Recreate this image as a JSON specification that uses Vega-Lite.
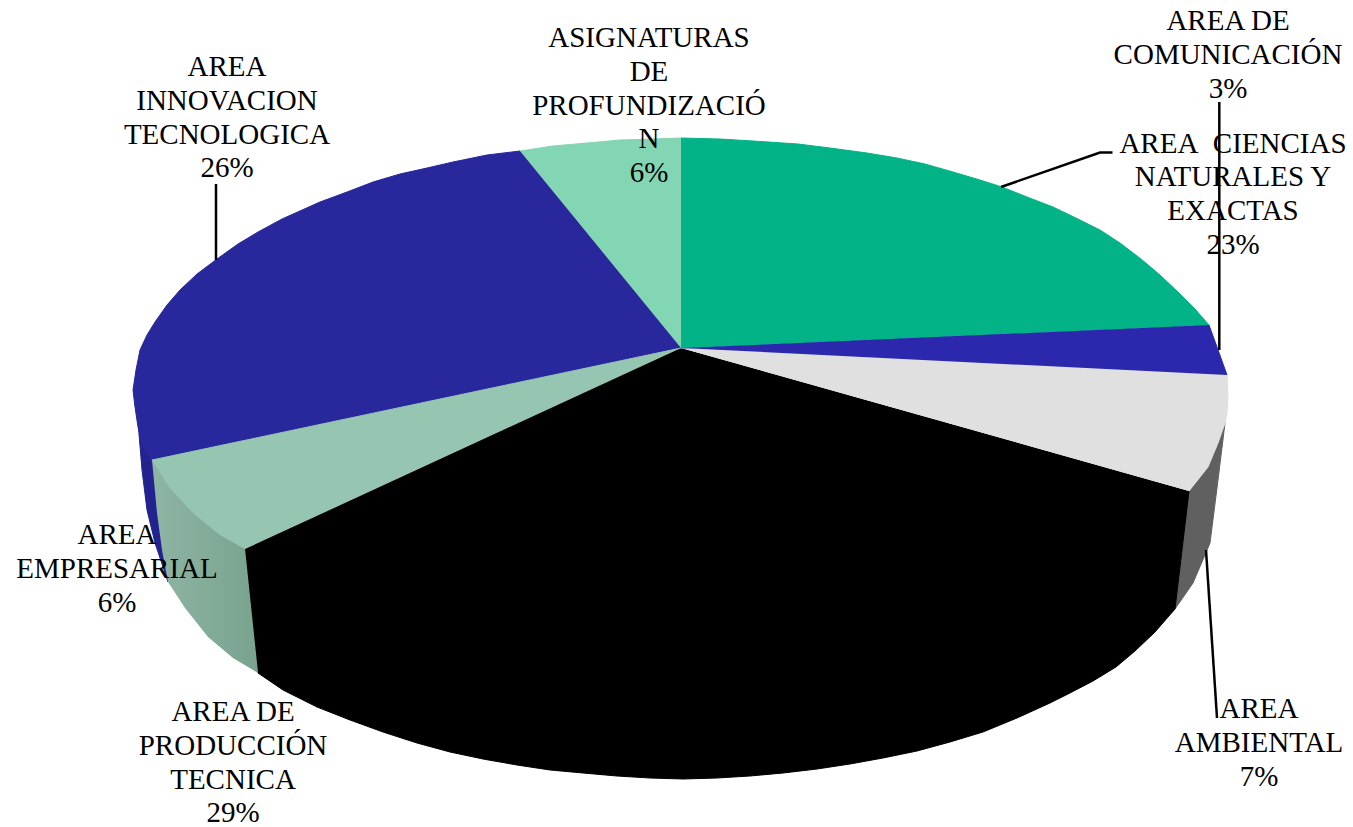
{"$schema":"https://vega.github.io/schema/vega-lite/v6.json","width":1353,"height":827,"padding":0,"autosize":{"type":"none"},"background":"#ffffff","view":{"stroke":null},
"datasets":{
"slices":[
{"s":"a_side_innov","i":0,"x":138.5,"y":428},{"s":"a_side_innov","i":1,"x":142,"y":470},{"s":"a_side_innov","i":2,"x":147,"y":510},{"s":"a_side_innov","i":3,"x":155,"y":543},{"s":"a_side_innov","i":4,"x":168,"y":582},{"s":"a_side_innov","i":5,"x":175,"y":560},{"s":"a_side_innov","i":6,"x":152,"y":460},
{"s":"c_side_ambiental","i":0,"x":1225,"y":423},{"s":"c_side_ambiental","i":1,"x":1218,"y":480},{"s":"c_side_ambiental","i":2,"x":1210,"y":543},{"s":"c_side_ambiental","i":3,"x":1193,"y":583},{"s":"c_side_ambiental","i":4,"x":1175,"y":609},{"s":"c_side_ambiental","i":5,"x":1189,"y":491},
{"s":"d_produccion","i":0,"x":681,"y":348},{"s":"d_produccion","i":1,"x":245,"y":549},{"s":"d_produccion","i":2,"x":258,"y":673},{"s":"d_produccion","i":3,"x":283,"y":690},{"s":"d_produccion","i":4,"x":317,"y":707},{"s":"d_produccion","i":5,"x":350,"y":720},{"s":"d_produccion","i":6,"x":383,"y":732},{"s":"d_produccion","i":7,"x":417,"y":743},{"s":"d_produccion","i":8,"x":450,"y":752},{"s":"d_produccion","i":9,"x":483,"y":759},{"s":"d_produccion","i":10,"x":517,"y":765},{"s":"d_produccion","i":11,"x":550,"y":770},{"s":"d_produccion","i":12,"x":583,"y":773},{"s":"d_produccion","i":13,"x":617,"y":776},{"s":"d_produccion","i":14,"x":650,"y":778},{"s":"d_produccion","i":15,"x":683,"y":779},{"s":"d_produccion","i":16,"x":717,"y":778},{"s":"d_produccion","i":17,"x":750,"y":776},{"s":"d_produccion","i":18,"x":783,"y":773},{"s":"d_produccion","i":19,"x":817,"y":769},{"s":"d_produccion","i":20,"x":850,"y":764},{"s":"d_produccion","i":21,"x":883,"y":758},{"s":"d_produccion","i":22,"x":917,"y":751},{"s":"d_produccion","i":23,"x":950,"y":742},{"s":"d_produccion","i":24,"x":983,"y":732},{"s":"d_produccion","i":25,"x":1017,"y":718},{"s":"d_produccion","i":26,"x":1050,"y":703},{"s":"d_produccion","i":27,"x":1070,"y":693},{"s":"d_produccion","i":28,"x":1093,"y":681},{"s":"d_produccion","i":29,"x":1116,"y":667},{"s":"d_produccion","i":30,"x":1135,"y":651},{"s":"d_produccion","i":31,"x":1155,"y":632},{"s":"d_produccion","i":32,"x":1175,"y":609},{"s":"d_produccion","i":33,"x":1189,"y":491},
{"s":"e_ambiental","i":0,"x":681,"y":348},{"s":"e_ambiental","i":1,"x":1227,"y":375},{"s":"e_ambiental","i":2,"x":1228,"y":397},{"s":"e_ambiental","i":3,"x":1227,"y":413},{"s":"e_ambiental","i":4,"x":1225,"y":423},{"s":"e_ambiental","i":5,"x":1218,"y":443},{"s":"e_ambiental","i":6,"x":1208,"y":467},{"s":"e_ambiental","i":7,"x":1189,"y":491},
{"s":"f_comunicacion","i":0,"x":681,"y":348},{"s":"f_comunicacion","i":1,"x":1209,"y":325},{"s":"f_comunicacion","i":2,"x":1217,"y":347},{"s":"f_comunicacion","i":3,"x":1227,"y":375},
{"s":"g_ciencias","i":0,"x":681,"y":348},{"s":"g_ciencias","i":1,"x":681,"y":138},{"s":"g_ciencias","i":2,"x":720,"y":139},{"s":"g_ciencias","i":3,"x":753,"y":141},{"s":"g_ciencias","i":4,"x":798,"y":144},{"s":"g_ciencias","i":5,"x":830,"y":148},{"s":"g_ciencias","i":6,"x":867,"y":153},{"s":"g_ciencias","i":7,"x":897,"y":158},{"s":"g_ciencias","i":8,"x":925,"y":164},{"s":"g_ciencias","i":9,"x":953,"y":172},{"s":"g_ciencias","i":10,"x":980,"y":180},{"s":"g_ciencias","i":11,"x":1002,"y":187},{"s":"g_ciencias","i":12,"x":1027,"y":197},{"s":"g_ciencias","i":13,"x":1053,"y":207},{"s":"g_ciencias","i":14,"x":1078,"y":219},{"s":"g_ciencias","i":15,"x":1100,"y":230},{"s":"g_ciencias","i":16,"x":1120,"y":243},{"s":"g_ciencias","i":17,"x":1141,"y":259},{"s":"g_ciencias","i":18,"x":1160,"y":275},{"s":"g_ciencias","i":19,"x":1179,"y":293},{"s":"g_ciencias","i":20,"x":1195,"y":309},{"s":"g_ciencias","i":21,"x":1209,"y":325},
{"s":"h_asignaturas","i":0,"x":681,"y":348},{"s":"h_asignaturas","i":1,"x":520,"y":151},{"s":"h_asignaturas","i":2,"x":553,"y":146},{"s":"h_asignaturas","i":3,"x":587,"y":143},{"s":"h_asignaturas","i":4,"x":620,"y":140},{"s":"h_asignaturas","i":5,"x":653,"y":139},{"s":"h_asignaturas","i":6,"x":681,"y":138},
{"s":"i_innovacion","i":0,"x":681,"y":348},{"s":"i_innovacion","i":1,"x":152,"y":460},{"s":"i_innovacion","i":2,"x":143,"y":447},{"s":"i_innovacion","i":3,"x":138,"y":427},{"s":"i_innovacion","i":4,"x":135,"y":407},{"s":"i_innovacion","i":5,"x":133,"y":390},{"s":"i_innovacion","i":6,"x":136,"y":370},{"s":"i_innovacion","i":7,"x":140,"y":350},{"s":"i_innovacion","i":8,"x":147,"y":335},{"s":"i_innovacion","i":9,"x":155,"y":322},{"s":"i_innovacion","i":10,"x":167,"y":305},{"s":"i_innovacion","i":11,"x":180,"y":290},{"s":"i_innovacion","i":12,"x":197,"y":274},{"s":"i_innovacion","i":13,"x":217,"y":259},{"s":"i_innovacion","i":14,"x":238,"y":244},{"s":"i_innovacion","i":15,"x":258,"y":232},{"s":"i_innovacion","i":16,"x":282,"y":219},{"s":"i_innovacion","i":17,"x":320,"y":202},{"s":"i_innovacion","i":18,"x":347,"y":192},{"s":"i_innovacion","i":19,"x":373,"y":182},{"s":"i_innovacion","i":20,"x":400,"y":174},{"s":"i_innovacion","i":21,"x":427,"y":168},{"s":"i_innovacion","i":22,"x":453,"y":162},{"s":"i_innovacion","i":23,"x":487,"y":155},{"s":"i_innovacion","i":24,"x":520,"y":151},
{"s":"j_empresarial","i":0,"x":681,"y":348},{"s":"j_empresarial","i":1,"x":152,"y":460},{"s":"j_empresarial","i":2,"x":170,"y":488},{"s":"j_empresarial","i":3,"x":193,"y":513},{"s":"j_empresarial","i":4,"x":220,"y":535},{"s":"j_empresarial","i":5,"x":245,"y":549}
],
"emp_side":[
{"i":0,"x":152,"y":460},{"i":1,"x":157,"y":513},{"i":2,"x":162,"y":550},{"i":3,"x":168,"y":582},{"i":4,"x":185,"y":608},{"i":5,"x":208,"y":637},{"i":6,"x":233,"y":658},{"i":7,"x":258,"y":673},{"i":8,"x":245,"y":549},{"i":9,"x":220,"y":535},{"i":10,"x":193,"y":513},{"i":11,"x":170,"y":488}
],
"leaders":[
{"l":"innovacion","i":0,"x":216,"y":184},{"l":"innovacion","i":1,"x":216,"y":260},
{"l":"ciencias","i":0,"x":1001,"y":187},{"l":"ciencias","i":1,"x":1100,"y":152.5},{"l":"ciencias","i":2,"x":1112.5,"y":152.5},
{"l":"comunicacion","i":0,"x":1219.3,"y":102},{"l":"comunicacion","i":1,"x":1219.3,"y":350},
{"l":"ambiental","i":0,"x":1206,"y":550},{"l":"ambiental","i":1,"x":1217,"y":718}
],
"labels":[
{"t":"AREA DE\nCOMUNICACIÓN\n3%","x":1228,"y":30},
{"t":"AREA\u00a0 CIENCIAS\nNATURALES Y\nEXACTAS\n23%","x":1233,"y":152.7},
{"t":"ASIGNATURAS\nDE\nPROFUNDIZACIÓ\nN\n6%","x":649,"y":47},
{"t":"AREA\nINNOVACION\nTECNOLOGICA\n26%","x":227,"y":76},
{"t":"AREA\nEMPRESARIAL\n6%","x":117,"y":544},
{"t":"AREA DE\nPRODUCCIÓN\nTECNICA\n29%","x":233,"y":721},
{"t":"AREA\nAMBIENTAL\n7%","x":1259,"y":718}
]},
"encoding":{"x":{"field":"x","type":"quantitative","scale":{"domain":[0,1353],"nice":false,"zero":false},"axis":null},"y":{"field":"y","type":"quantitative","scale":{"domain":[827,0],"nice":false,"zero":false},"axis":null}},
"layer":[
{"data":{"name":"slices"},"mark":{"type":"line","strokeWidth":1},
"encoding":{"order":{"field":"i","type":"ordinal"},"detail":{"field":"s"},
"fill":{"field":"s","type":"nominal","legend":null,"scale":{"domain":["a_side_innov","c_side_ambiental","d_produccion","e_ambiental","f_comunicacion","g_ciencias","h_asignaturas","i_innovacion","j_empresarial"],"range":["#232390","#606060","#000000","#e0e0e0","#2b28ae","#02b388","#83d6b4","#28279b","#96c5b1"]}},
"stroke":{"field":"s","type":"nominal","legend":null,"scale":{"domain":["a_side_innov","c_side_ambiental","d_produccion","e_ambiental","f_comunicacion","g_ciencias","h_asignaturas","i_innovacion","j_empresarial"],"range":["#232390","#606060","#000000","#e0e0e0","#2b28ae","#02b388","#83d6b4","#28279b","#96c5b1"]}}}},
{"data":{"name":"emp_side"},"mark":{"type":"line","strokeWidth":0,"fill":{"gradient":"linear","x1":0,"y1":0,"x2":1,"y2":0,"stops":[{"offset":0,"color":"#8fb5a4"},{"offset":1,"color":"#78a38e"}]}},
"encoding":{"order":{"field":"i","type":"ordinal"}}},
{"data":{"name":"leaders"},"mark":{"type":"line","color":"#000000","strokeWidth":2.5},
"encoding":{"order":{"field":"i","type":"ordinal"},"detail":{"field":"l"}}},
{"data":{"name":"labels"},"mark":{"type":"text","font":"Liberation Serif","fontSize":29,"lineHeight":33.8,"lineBreak":"\n","align":"center","baseline":"alphabetic","color":"#000000"},
"encoding":{"text":{"field":"t"}}}
]}
